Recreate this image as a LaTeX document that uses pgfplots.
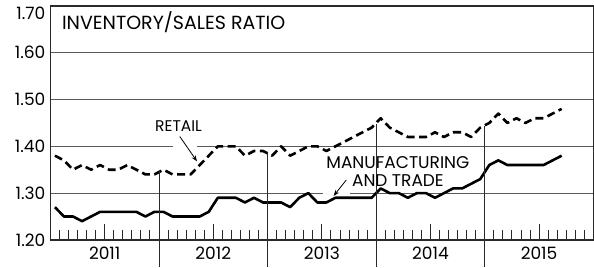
\documentclass[border=0pt]{standalone}
\usepackage{fontspec}
\setmainfont{Poppins}
\usepackage{pgfplots}
\usepackage{pgfplotstable}
\pgfplotsset{compat=1.18}
\usetikzlibrary{arrows.meta}
\definecolor{gridc}{HTML}{5A5A5A}
\definecolor{framec}{HTML}{2A2A2A}

\pgfplotstableread{
x r m
0 1.38 1.27
1 1.37 1.25
2 1.35 1.25
3 1.36 1.24
4 1.35 1.25
5 1.36 1.26
6 1.35 1.26
7 1.35 1.26
8 1.36 1.26
9 1.35 1.26
10 1.34 1.25
11 1.34 1.26
12 1.35 1.26
13 1.34 1.25
14 1.34 1.25
15 1.34 1.25
16 1.36 1.25
17 1.38 1.26
18 1.40 1.29
19 1.40 1.29
20 1.40 1.29
21 1.38 1.28
22 1.39 1.29
23 1.39 1.28
24 1.38 1.28
25 1.40 1.28
26 1.38 1.27
27 1.39 1.29
28 1.40 1.30
29 1.40 1.28
30 1.39 1.28
31 1.40 1.29
32 1.41 1.29
33 1.42 1.29
34 1.43 1.29
35 1.44 1.29
36 1.46 1.31
37 1.44 1.30
38 1.43 1.30
39 1.42 1.29
40 1.42 1.30
41 1.42 1.30
42 1.43 1.29
43 1.42 1.30
44 1.43 1.31
45 1.43 1.31
46 1.42 1.32
47 1.44 1.33
48 1.45 1.36
49 1.47 1.37
50 1.45 1.36
51 1.46 1.36
52 1.45 1.36
53 1.46 1.36
54 1.46 1.36
55 1.47 1.37
56 1.48 1.38
}\data

\begin{document}
\begin{tikzpicture}
\begin{axis}[
  scale only axis,
  width=543.2pt, height=234pt,
  xmin=-0.5, xmax=59.5,
  ymin=1.2, ymax=1.7,
  clip=false,
  axis line style={line width=1.3pt, framec},
  tick pos=left,
  tick align=inside,
  xtick={0.5,1.5,2.5,3.5,4.5,6.5,7.5,8.5,9.5,10.5,
         12.5,13.5,14.5,15.5,16.5,18.5,19.5,20.5,21.5,22.5,
         24.5,25.5,26.5,27.5,28.5,30.5,31.5,32.5,33.5,34.5,
         36.5,37.5,38.5,39.5,40.5,42.5,43.5,44.5,45.5,46.5,
         48.5,49.5,50.5,51.5,52.5,54.5,55.5,56.5,57.5,58.5},
  xticklabels={},
  major tick length=10pt,
  xtick style={line width=0.9pt, framec},
  extra x ticks={5.5,17.5,29.5,41.5,53.5},
  extra x tick labels={2011,2012,2013,2014,2015},
  extra x tick style={major tick length=16pt, tick align=inside,
     xticklabel style={font=\fontsize{17}{17}\selectfont, yshift=-4pt}},
  ytick={1.2,1.3,1.4,1.5,1.6},
  ytick style={draw=none},
  ymajorgrids,
  grid style={gridc, line width=0.8pt},
  /pgf/number format/assume math mode=true,
  yticklabel style={font=\fontsize{17}{17}\selectfont, xshift=-1.5pt,
     /pgf/number format/fixed, /pgf/number format/fixed zerofill,
     /pgf/number format/precision=2},
]
% gaps in grid lines
\fill[white] (axis cs:13.05,1.395) rectangle (axis cs:15.7,1.405);
\fill[white] (axis cs:29.6,1.295) rectangle (axis cs:32.6,1.305);

\addplot[black, line width=2.6pt, dash pattern=on 8pt off 4.5pt, line join=round] table[x=x,y=r] {\data};
\addplot[black, line width=2.6pt, line join=round] table[x=x,y=m] {\data};

% year separator lines
\draw[framec, line width=0.9pt] (axis cs:11.5,1.347) -- ([yshift=-27pt]axis cs:11.5,1.2);
\draw[framec, line width=0.9pt] (axis cs:23.5,1.385) -- ([yshift=-27pt]axis cs:23.5,1.2);
\draw[framec, line width=0.9pt] (axis cs:35.5,1.448) -- ([yshift=-27pt]axis cs:35.5,1.2);
\draw[framec, line width=0.9pt] (axis cs:47.5,1.443) -- ([yshift=-27pt]axis cs:47.5,1.2);

% title and labels
\node[anchor=base west, inner sep=0pt, font=\fontsize{19}{19}\selectfont]
  at ([xshift=11.5pt, yshift=-24pt]axis cs:-0.5,1.7) {INVENTORY/SALES RATIO};
\node[anchor=east, xshift=-1.5pt, font=\fontsize{17}{17}\selectfont]
  at ([yshift=-7pt]axis cs:-0.5,1.7) {1.70};
\node[font=\fontsize{15.5}{15.5}\selectfont] at (axis cs:13.66,1.444) {RETAIL};
\draw[-{Stealth[length=6pt,width=4.5pt]}, line width=0.8pt] (axis cs:13.8,1.421) -- (axis cs:15.7,1.368);
\node[align=center, font=\fontsize{17}{18.5}\selectfont] at (axis cs:37.9,1.346) {MANUFACTURING\\AND TRADE};
\draw[-{Stealth[length=6pt,width=4.5pt]}, line width=0.8pt] (axis cs:32.2,1.328) -- (axis cs:30.8,1.294);
\end{axis}
\path ([shift={(-50.4pt,-27pt)}]current axis.south west) rectangle ([shift={(0.4pt,6pt)}]current axis.north east);
\end{tikzpicture}
\end{document}
